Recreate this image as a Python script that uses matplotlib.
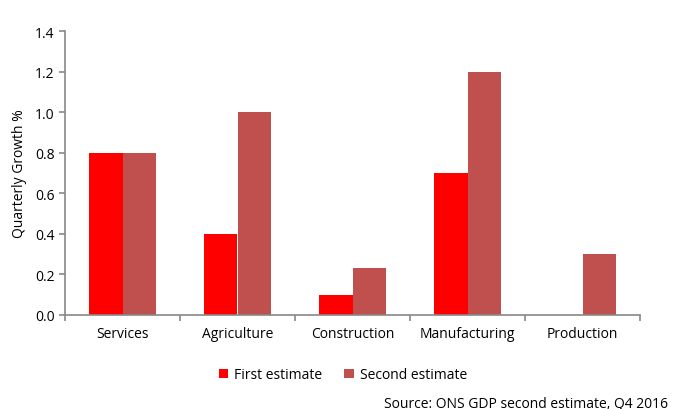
import numpy as np
import matplotlib
matplotlib.use("Agg")
import matplotlib.pyplot as plt

categories = ["Services", "Agriculture", "Construction", "Manufacturing", "Production"]
first_estimate = [0.8, 0.4, 0.1, 0.7, 0.0]
second_estimate = [0.8, 1.0, 0.23, 1.2, 0.3]

plt.rcParams["font.family"] = ["Open Sans", "DejaVu Sans"]

fig = plt.figure(figsize=(6.94, 4.10), dpi=100)
ax = fig.add_axes([65 / 694, 1 - 316 / 410, (640 - 65) / 694, (316 - 32) / 410])

x = np.arange(len(categories))
w = 0.29
ax.bar(x - w / 2, first_estimate, w, color="#FF0000", label="First estimate")
ax.bar(x + w / 2, second_estimate, w, color="#C0504D", label="Second estimate")

ax.set_xlim(-0.5, len(categories) - 0.5)
ax.set_ylim(0, 1.4)
ax.set_yticks(np.arange(0, 1.41, 0.2))
ax.set_yticklabels([f"{v:.1f}" for v in np.arange(0, 1.41, 0.2)], fontsize=10)
ax.set_xticks(x)
ax.set_xticklabels(categories, fontsize=10)
ax.set_xticks(np.arange(-0.5, len(categories)), minor=True)
ax.tick_params(axis="x", which="major", length=0, pad=8)
ax.tick_params(axis="x", which="minor", length=4, color="#888888", direction="out", width=1.2)
ax.tick_params(axis="y", length=4, color="#888888", direction="out", width=1.2)
ax.set_ylabel("Quarterly Growth %", fontsize=10, labelpad=6)

for s in ["top", "right"]:
    ax.spines[s].set_visible(False)
for s in ["left", "bottom"]:
    ax.spines[s].set_color("#888888")
    ax.spines[s].set_linewidth(1.2)

ax.legend(loc="upper center", bbox_to_anchor=(0.483, -0.14), ncol=2, frameon=False,
          fontsize=10, handlelength=0.7, handleheight=0.7, columnspacing=1.6, handletextpad=0.4)

fig.text(668 / 694, 1 - 404 / 410, "Source: ONS GDP second estimate, Q4 2016",
         ha="right", va="center", fontsize=10)

fig.savefig("out.png", dpi=100)
